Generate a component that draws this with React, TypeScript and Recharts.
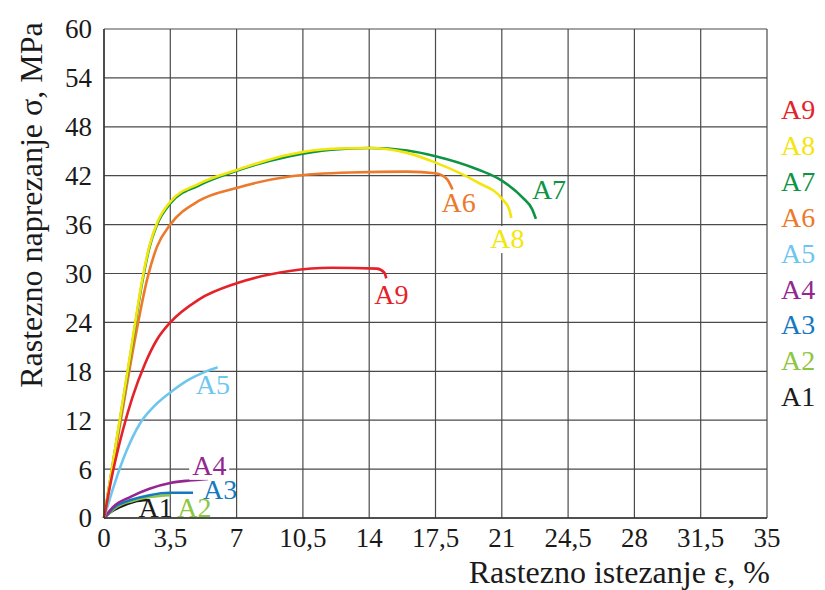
import { LineChart, Line, XAxis, YAxis, CartesianGrid, LabelList } from 'recharts';

// strain (%) on x, stress (MPa) on y
const strainTicks = [0, 3.5, 7, 10.5, 14, 17.5, 21, 24.5, 28, 31.5, 35];
const stressTicks = [0, 6, 12, 18, 24, 30, 36, 42, 48, 54, 60];

const a1 = [[0, 0], [0.4, 0.8], [0.8, 1.3], [1.6, 2.0], [2.3, 2.2]];
const a2 = [[0, 0], [0.7, 1.4], [1.5, 2.1], [2.5, 2.6], [3.5, 2.8]];
const a3 = [[0, 0], [0.6, 1.4], [1.4, 2.2], [2.4, 2.8], [3.5, 3.1], [4.7, 3.1]];
const a4 = [[0, 0], [0.5, 1.4], [1.4, 2.6], [2.4, 3.6], [3.5, 4.3], [4.5, 4.6], [5.5, 4.8]];
const a5 = [[0, 0], [0.6, 4.5], [1.2, 8.3], [1.9, 11.6], [2.6, 13.6], [3.5, 15.4], [4.5, 17.0], [5.3, 17.9], [6, 18.5]];
const a6 = [[0, 0], [1.0, 13.5], [1.6, 21.5], [2.3, 29.5], [2.8, 33.3], [3.5, 36], [5, 38.9], [7, 40.5], [9.8, 41.9], [13, 42.4], [16, 42.5], [17.5, 42.3], [18.1, 41.6], [18.4, 40.3]];
const a7 = [[0, 0], [1.0, 14.3], [1.5, 21.5], [2.0, 28.7], [2.4, 33.2], [2.8, 36], [3.5, 38.6], [5, 40.8], [7, 42.6], [9.8, 44.4], [12, 45.2], [14, 45.4], [16, 45.1], [17.5, 44.4], [19.7, 42.8], [21, 41.4], [22.1, 39.3], [22.6, 37.9], [22.8, 36.7]];
const a8 = [[0, 0], [1.0, 14.5], [1.5, 21.8], [2.0, 29], [2.4, 33.4], [2.8, 36.2], [3.5, 38.8], [5, 41], [7, 42.7], [9.8, 44.6], [12, 45.3], [14, 45.4], [16, 44.8], [17.5, 43.6], [19.7, 41.2], [21, 39.2], [21.4, 37.8], [21.5, 36.8]];
const a9 = [[0, 0], [0.5, 6], [1.0, 10.8], [1.5, 14.8], [2.16, 18.9], [2.8, 21.9], [3.5, 24], [5, 26.8], [7, 28.8], [9.8, 30.3], [12, 30.7], [14.4, 30.6], [14.8, 30.1], [14.9, 29.4]];

const seriesNames = ['A1', 'A2', 'A3', 'A4', 'A5', 'A6', 'A7', 'A8', 'A9'];
const seriesPoints = [a1, a2, a3, a4, a5, a6, a7, a8, a9];

const colors: Record<string, string> = {
  A1: '#1a1a1a',
  A2: '#8dc63f',
  A3: '#1679bf',
  A4: '#93278f',
  A5: '#6ec6ef',
  A6: '#ec7a2c',
  A7: '#0d9444',
  A8: '#f3e60c',
  A9: '#e4222a',
};

// where each end label sits relative to the last point of its curve
const endLabel: Record<string, { dx: number; dy: number; bg?: boolean }> = {
  A1: { dx: -9, dy: 17 },
  A2: { dx: 7, dy: 22 },
  A3: { dx: 10, dy: 6 },
  A4: { dx: -16, dy: -4, bg: true },
  A5: { dx: -22, dy: 27 },
  A6: { dx: -11, dy: 22 },
  A7: { dx: -4, dy: -20 },
  A8: { dx: -21, dy: 30, bg: true },
  A9: { dx: -12, dy: 26 },
};

const serif = '"Liberation Serif", "Times New Roman", serif';
const ink = '#1a1a1a';

const series = seriesNames.map((name, i) => ({
  name,
  data: seriesPoints[i].map(([x, y]) => ({ x, y })),
}));

const YTick = ({ x, y, payload }: any) => (
  <text x={x} y={y} dy="0.35em" textAnchor="end" fontSize={27} fontFamily={serif} fill={ink}>
    {payload.value}
  </text>
);

const XTick = ({ x, y, payload }: any) => (
  <text x={x} y={y} dy="0.71em" textAnchor="middle" fontSize={27} fontFamily={serif} fill={ink}>
    {String(payload.value).replace('.', ',')}
  </text>
);

const makeEndLabel = (name: string, count: number) => (props: any) => {
  const { x, y, index } = props;
  if (index !== count - 1) return <g />;
  const o = endLabel[name];
  const tx = x + o.dx;
  const ty = y + o.dy;
  return (
    <g>
      {o.bg && <rect x={tx - 3} y={ty - 22} width={40} height={27} fill="#fff" />}
      <text x={tx} y={ty} fontSize={28} fontFamily={serif} fill={colors[name]}>
        {name}
      </text>
    </g>
  );
};

const XTitle = () => (
  <text x={770} y={583} textAnchor="end" fontSize={32} fontFamily={serif} fill={ink}>
    Rastezno istezanje ε, %
  </text>
);

const YTitle = () => (
  <text x={42} y={205} textAnchor="middle" fontSize={32} fontFamily={serif} fill={ink} transform="rotate(-90 42 205)">
    Rastezno naprezanje σ, MPa
  </text>
);

export default function App() {
  return (
    <div style={{ position: 'absolute', left: 0, top: 0, width: 825, height: 590, background: '#fff' }}>
      <LineChart width={825} height={590} margin={{ top: 29, right: 58, bottom: 12, left: 8 }}>
        <CartesianGrid stroke="#4a4a4a" strokeWidth={1.2} />
        <XAxis
          type="number"
          dataKey="x"
          domain={[0, 35]}
          ticks={strainTicks}
          height={60}
          tickLine={false}
          tickSize={0}
          tickMargin={10}
          tick={<XTick />}
          axisLine={{ stroke: '#333', strokeWidth: 1.4 }}
          label={<XTitle />}
        />
        <YAxis
          type="number"
          dataKey="y"
          domain={[0, 60]}
          ticks={stressTicks}
          width={96}
          tickLine={false}
          tickSize={0}
          tickMargin={12}
          tick={<YTick />}
          axisLine={{ stroke: '#333', strokeWidth: 1.4 }}
          label={<YTitle />}
        />
        {series.map((s) => (
          <Line
            key={s.name}
            data={s.data}
            dataKey="y"
            name={s.name}
            type="monotone"
            stroke={colors[s.name]}
            strokeWidth={2.6}
            dot={false}
            isAnimationActive={false}
          >
            <LabelList dataKey="y" content={makeEndLabel(s.name, s.data.length)} />
          </Line>
        ))}
      </LineChart>
      <div
        style={{
          position: 'absolute',
          left: 781,
          top: 92,
          fontFamily: serif,
          fontSize: 28,
          lineHeight: '35.9px',
        }}
      >
        {[...seriesNames].reverse().map((n) => (
          <div key={n} style={{ color: colors[n] }}>{n}</div>
        ))}
      </div>
    </div>
  );
}
